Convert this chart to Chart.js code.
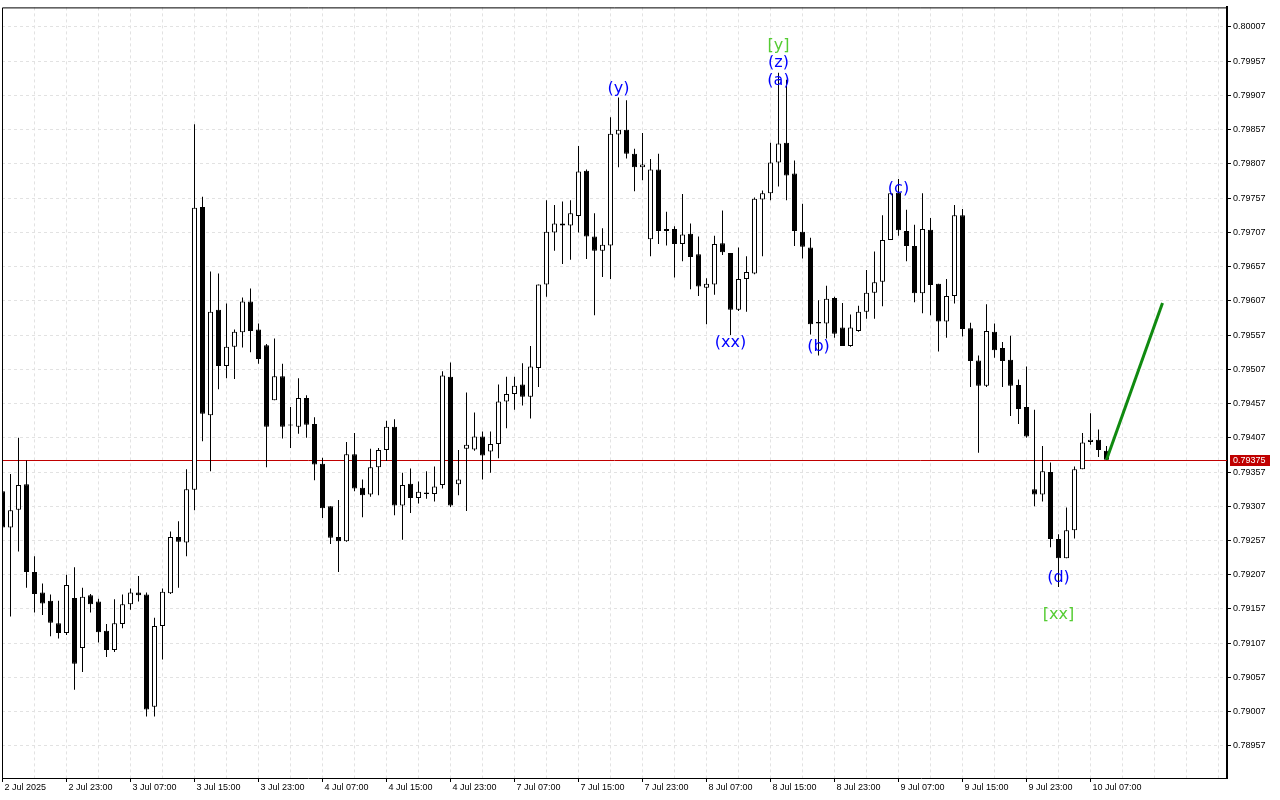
<!DOCTYPE html>
<html>
<head>
<meta charset="utf-8">
<title>H1 chart</title>
<script src="https://cdn.jsdelivr.net/npm/chart.js@4.4.1/dist/chart.umd.min.js"></script>
<style>
  html, body { margin: 0; padding: 0; background: #fff; }
  #wrap { width: 1280px; height: 800px; }
</style>
</head>
<body>
<div id="wrap"><canvas id="chart" width="1280" height="800"></canvas></div>
<script>
// Hourly candles, 2 Jul 15:00 .. 10 Jul 09:00 (index = candle number)
const opens = [
  0.79329, 0.79276, 0.79302, 0.79339, 0.79211, 0.79181, 0.79169, 0.79136, 0.79122, 0.79173,
  0.79100, 0.79177, 0.79168, 0.79125, 0.79097, 0.79135, 0.79164, 0.79181, 0.79178, 0.79014,
  0.79132, 0.79180, 0.79262, 0.79254, 0.79331, 0.79744, 0.79440, 0.79594, 0.79512, 0.79540,
  0.79561, 0.79606, 0.79565, 0.79542, 0.79462, 0.79497, 0.79425, 0.79423, 0.79465, 0.79427,
  0.79369, 0.79307, 0.79262, 0.79256, 0.79383, 0.79334, 0.79324, 0.79364, 0.79389, 0.79423,
  0.79308, 0.79340, 0.79319, 0.79327, 0.79325, 0.79338, 0.79496, 0.79339, 0.79391, 0.79390,
  0.79409, 0.79387, 0.79398, 0.79460, 0.79471, 0.79485, 0.79467, 0.79509, 0.79631, 0.79707,
  0.79720, 0.79717, 0.79731, 0.79797, 0.79701, 0.79680, 0.79688, 0.79850, 0.79857, 0.79822,
  0.79802, 0.79697, 0.79799, 0.79709, 0.79712, 0.79690, 0.79705, 0.79675, 0.79626, 0.79631,
  0.79691, 0.79677, 0.79594, 0.79639, 0.79647, 0.79755, 0.79764, 0.79809, 0.79838, 0.79793,
  0.79708, 0.79685, 0.79574, 0.79574, 0.79611, 0.79568, 0.79541, 0.79563, 0.79591, 0.79619,
  0.79635, 0.79696, 0.79765, 0.79709, 0.79687, 0.79618, 0.79711, 0.79632, 0.79577, 0.79614,
  0.79732, 0.79567, 0.79520, 0.79483, 0.79562, 0.79538, 0.79521, 0.79484, 0.79452, 0.79332,
  0.79324, 0.79357, 0.79259, 0.79231, 0.79272, 0.79361, 0.79401, 0.79404, 0.79388
];
const highs = [
  0.79335, 0.79354, 0.79407, 0.79374, 0.79234, 0.79194, 0.79178, 0.79169, 0.79207, 0.79218,
  0.79188, 0.79179, 0.79172, 0.79135, 0.79171, 0.79178, 0.79187, 0.79205, 0.79181, 0.79144,
  0.79187, 0.79270, 0.79285, 0.79361, 0.79865, 0.79759, 0.79650, 0.79647, 0.79603, 0.79565,
  0.79612, 0.79625, 0.79574, 0.79544, 0.79552, 0.79515, 0.79452, 0.79494, 0.79469, 0.79437,
  0.79378, 0.79307, 0.79316, 0.79401, 0.79414, 0.79346, 0.79391, 0.79392, 0.79432, 0.79434,
  0.79356, 0.79362, 0.79343, 0.79358, 0.79365, 0.79504, 0.79517, 0.79389, 0.79473, 0.79444,
  0.79416, 0.79416, 0.79485, 0.79496, 0.79496, 0.79516, 0.79541, 0.79631, 0.79754, 0.79747,
  0.79752, 0.79754, 0.79833, 0.79799, 0.79735, 0.79713, 0.79875, 0.79904, 0.79900, 0.79829,
  0.79852, 0.79814, 0.79822, 0.79737, 0.79716, 0.79763, 0.79720, 0.79701, 0.79640, 0.79702,
  0.79739, 0.79677, 0.79685, 0.79672, 0.79758, 0.79768, 0.79838, 0.79940, 0.79930, 0.79812,
  0.79749, 0.79699, 0.79608, 0.79629, 0.79613, 0.79604, 0.79587, 0.79600, 0.79652, 0.79679,
  0.79732, 0.79764, 0.79785, 0.79740, 0.79718, 0.79764, 0.79728, 0.79632, 0.79639, 0.79747,
  0.79741, 0.79575, 0.79527, 0.79602, 0.79574, 0.79547, 0.79556, 0.79492, 0.79511, 0.79448,
  0.79395, 0.79371, 0.79266, 0.79305, 0.79365, 0.79414, 0.79443, 0.79419, 0.79395
];
const lows = [
  0.79268, 0.79146, 0.79241, 0.79188, 0.79152, 0.79148, 0.79117, 0.79114, 0.79119, 0.79039,
  0.79065, 0.79152, 0.79108, 0.79087, 0.79094, 0.79129, 0.79156, 0.79168, 0.79000, 0.79000,
  0.79083, 0.79179, 0.79188, 0.79234, 0.79301, 0.79402, 0.79358, 0.79478, 0.79494, 0.79493,
  0.79539, 0.79532, 0.79515, 0.79364, 0.79462, 0.79406, 0.79392, 0.79413, 0.79407, 0.79345,
  0.79290, 0.79252, 0.79211, 0.79255, 0.79329, 0.79291, 0.79321, 0.79323, 0.79373, 0.79294,
  0.79258, 0.79297, 0.79311, 0.79318, 0.79314, 0.79333, 0.79306, 0.79323, 0.79300, 0.79388,
  0.79346, 0.79356, 0.79377, 0.79421, 0.79448, 0.79454, 0.79435, 0.79481, 0.79613, 0.79680,
  0.79661, 0.79667, 0.79707, 0.79668, 0.79586, 0.79642, 0.79639, 0.79802, 0.79815, 0.79767,
  0.79783, 0.79672, 0.79690, 0.79688, 0.79641, 0.79665, 0.79624, 0.79614, 0.79573, 0.79616,
  0.79674, 0.79557, 0.79592, 0.79591, 0.79646, 0.79672, 0.79754, 0.79774, 0.79754, 0.79687,
  0.79669, 0.79558, 0.79527, 0.79552, 0.79553, 0.79541, 0.79540, 0.79562, 0.79581, 0.79581,
  0.79599, 0.79696, 0.79702, 0.79665, 0.79605, 0.79589, 0.79586, 0.79533, 0.79553, 0.79603,
  0.79555, 0.79481, 0.79385, 0.79481, 0.79524, 0.79481, 0.79439, 0.79427, 0.79407, 0.79307,
  0.79314, 0.79247, 0.79189, 0.79231, 0.79260, 0.79361, 0.79397, 0.79379, 0.79375
];
const closes = [
  0.79276, 0.79301, 0.79338, 0.79211, 0.79179, 0.79165, 0.79137, 0.79122, 0.79192, 0.79077,
  0.79175, 0.79164, 0.79123, 0.79097, 0.79136, 0.79164, 0.79181, 0.79177, 0.79010, 0.79132,
  0.79182, 0.79262, 0.79255, 0.79332, 0.79743, 0.79442, 0.79591, 0.79512, 0.79540, 0.79562,
  0.79606, 0.79563, 0.79522, 0.79423, 0.79497, 0.79423, 0.79425, 0.79465, 0.79426, 0.79368,
  0.79304, 0.79261, 0.79256, 0.79383, 0.79333, 0.79323, 0.79364, 0.79389, 0.79423, 0.79308,
  0.79338, 0.79319, 0.79328, 0.79325, 0.79336, 0.79498, 0.79308, 0.79346, 0.79397, 0.79409,
  0.79381, 0.79398, 0.79460, 0.79471, 0.79483, 0.79467, 0.79511, 0.79631, 0.79708, 0.79720,
  0.79717, 0.79735, 0.79796, 0.79701, 0.79680, 0.79689, 0.79851, 0.79857, 0.79822, 0.79802,
  0.79806, 0.79799, 0.79709, 0.79712, 0.79690, 0.79704, 0.79671, 0.79628, 0.79632, 0.79690,
  0.79678, 0.79594, 0.79639, 0.79649, 0.79756, 0.79764, 0.79809, 0.79837, 0.79790, 0.79709,
  0.79686, 0.79573, 0.79576, 0.79610, 0.79559, 0.79541, 0.79568, 0.79591, 0.79619, 0.79634,
  0.79696, 0.79764, 0.79710, 0.79687, 0.79618, 0.79712, 0.79630, 0.79577, 0.79614, 0.79732,
  0.79566, 0.79519, 0.79483, 0.79563, 0.79535, 0.79519, 0.79483, 0.79449, 0.79409, 0.79324,
  0.79358, 0.79259, 0.79231, 0.79272, 0.79361, 0.79400, 0.79404, 0.79389, 0.79375
];

const timeLabels = [
  '2 Jul 2025', '2 Jul 23:00', '3 Jul 07:00', '3 Jul 15:00', '3 Jul 23:00', '4 Jul 07:00',
  '4 Jul 15:00', '4 Jul 23:00', '7 Jul 07:00', '7 Jul 15:00', '7 Jul 23:00', '8 Jul 07:00',
  '8 Jul 15:00', '8 Jul 23:00', '9 Jul 07:00', '9 Jul 15:00', '9 Jul 23:00', '10 Jul 07:00'
];
const priceTicks = [
  0.80007, 0.79957, 0.79907, 0.79857, 0.79807, 0.79757, 0.79707, 0.79657, 0.79607, 0.79557, 0.79507,
  0.79457, 0.79407, 0.79357, 0.79307, 0.79257, 0.79207, 0.79157, 0.79107, 0.79057, 0.79007, 0.78957
];
const lastPrice = 0.79375;

// wave marks: text, candle index, price
const waveText  = ['[y]', '(z)', '(a)', '(y)', '(xx)', '(b)', '(c)', '(d)', '[xx]'];
const waveIdx   = [97, 97, 97, 77, 91, 102, 112, 132, 132];
const wavePrice = [0.79980, 0.79954, 0.79928, 0.79917, 0.79545, 0.79540, 0.79771, 0.79203, 0.79149];
const waveMajor = [true, false, false, false, false, false, false, false, true];

// projected move
const arrowIdx = [138, 145];
const arrowPrice = [0.79375, 0.79604];

// vertical grid every 4 candles, labels every 8
const gridIdx = [];
for (let i = 0; i <= 152; i += 4) gridIdx.push(i);

const bodies = opens.map((o, i) => ({ x: i, y: [o, closes[i]] }));
const wicks = lows.map((l, i) => ({ x: i, y: [l, highs[i]] }));

const axisFont = { family: 'Liberation Sans', size: 9 };

// plot frame + last price line / tag
const framePlugin = {
  id: 'frame',
  beforeDatasetsDraw(chart) {
    const { ctx, chartArea: a, scales: { y } } = chart;
    const py = Math.round(y.getPixelForValue(lastPrice)) + 0.5;
    ctx.save();
    ctx.strokeStyle = '#c00000';
    ctx.lineWidth = 1;
    ctx.beginPath();
    ctx.moveTo(a.left, py);
    ctx.lineTo(a.right, py);
    ctx.stroke();
    ctx.restore();
  },
  afterDraw(chart) {
    const { ctx, chartArea: a, scales: { y } } = chart;
    ctx.save();
    ctx.strokeStyle = '#000';
    ctx.lineWidth = 1;
    ctx.beginPath();
    ctx.moveTo(a.left + 0.5, a.bottom);
    ctx.lineTo(a.left + 0.5, a.top + 0.5);
    ctx.lineTo(a.right, a.top + 0.5);
    ctx.stroke();
    // price tag
    const py = Math.round(y.getPixelForValue(lastPrice));
    ctx.fillStyle = '#c00000';
    ctx.fillRect(a.right + 3, py - 5, 40, 11);
    ctx.fillStyle = '#fff';
    ctx.font = '9px "Liberation Sans"';
    ctx.textBaseline = 'middle';
    ctx.textAlign = 'left';
    ctx.fillText(lastPrice.toFixed(5), a.right + 6, py + 0.5);
    ctx.restore();
  }
};

const wavePlugin = {
  id: 'waves',
  afterDatasetsDraw(chart) {
    const { ctx, scales: { x, y } } = chart;
    ctx.save();
    ctx.font = '16px "DejaVu Sans"';
    ctx.textAlign = 'center';
    ctx.textBaseline = 'middle';
    waveText.forEach((t, i) => {
      ctx.fillStyle = waveMajor[i] ? '#55cc33' : '#0000ff';
      ctx.fillText(t, x.getPixelForValue(waveIdx[i]), y.getPixelForValue(wavePrice[i]));
    });
    ctx.restore();
  }
};

new Chart(document.getElementById('chart'), {
  type: 'bar',
  data: {
    datasets: [
      {
        type: 'line',
        data: arrowIdx.map((v, i) => ({ x: v, y: arrowPrice[i] })),
        borderColor: '#108a10',
        borderWidth: 3,
        pointRadius: 0,
        order: 0
      },
      {
        data: bodies,
        backgroundColor: bodies.map(b => (b.y[1] >= b.y[0] ? '#ffffff' : '#000000')),
        borderColor: '#000',
        borderWidth: 1,
        borderSkipped: false,
        barThickness: 5,
        minBarLength: 1,
        grouped: false,
        inflateAmount: 0,
        order: 1
      },
      {
        data: wicks,
        backgroundColor: '#000',
        borderWidth: 0,
        barThickness: 1,
        grouped: false,
        inflateAmount: 0,
        order: 2
      }
    ]
  },
  options: {
    responsive: false,
    animation: false,
    devicePixelRatio: 1,
    layout: { padding: { left: 2, top: 3, right: 0, bottom: 0 } },
    plugins: { legend: { display: false }, tooltip: { enabled: false } },
    scales: {
      x: {
        type: 'linear',
        position: 'bottom',
        offset: false,
        min: -0.0625,
        max: 153.0625,
        afterBuildTicks: s => { s.ticks = gridIdx.map(v => ({ value: v })); },
        afterFit: s => { s.height = 22; },
        ticks: {
          autoSkip: false,
          maxRotation: 0,
          minRotation: 0,
          align: 'start',
          padding: 0,
          labelOffset: 2,
          color: '#000',
          font: axisFont,
          callback: v => (v % 8 === 0 ? timeLabels[v / 8] || '' : '')
        },
        grid: {
          offset: false,
          color: '#e2e2e2',
          tickLength: 4,
          tickColor: c => (c.tick && c.tick.value % 8 === 0 && c.tick.value <= 136 ? '#000' : 'rgba(0,0,0,0)'),
          tickBorderDash: []
        },
        border: { color: '#000', width: 1, dash: [3, 3] }
      },
      y: {
        type: 'linear',
        position: 'right',
        min: 0.789101,
        max: 0.800356,
        afterBuildTicks: s => { s.ticks = priceTicks.map(v => ({ value: v })); },
        afterFit: s => { s.width = 53; },
        ticks: {
          autoSkip: false,
          padding: 2,
          color: '#000',
          font: axisFont,
          callback: v => v.toFixed(5)
        },
        grid: {
          color: '#e2e2e2',
          tickLength: 4,
          tickColor: '#000',
          tickBorderDash: []
        },
        border: { color: '#000', width: 2, dash: [3, 3] }
      }
    }
  },
  plugins: [framePlugin, wavePlugin]
});
</script>
</body>
</html>
